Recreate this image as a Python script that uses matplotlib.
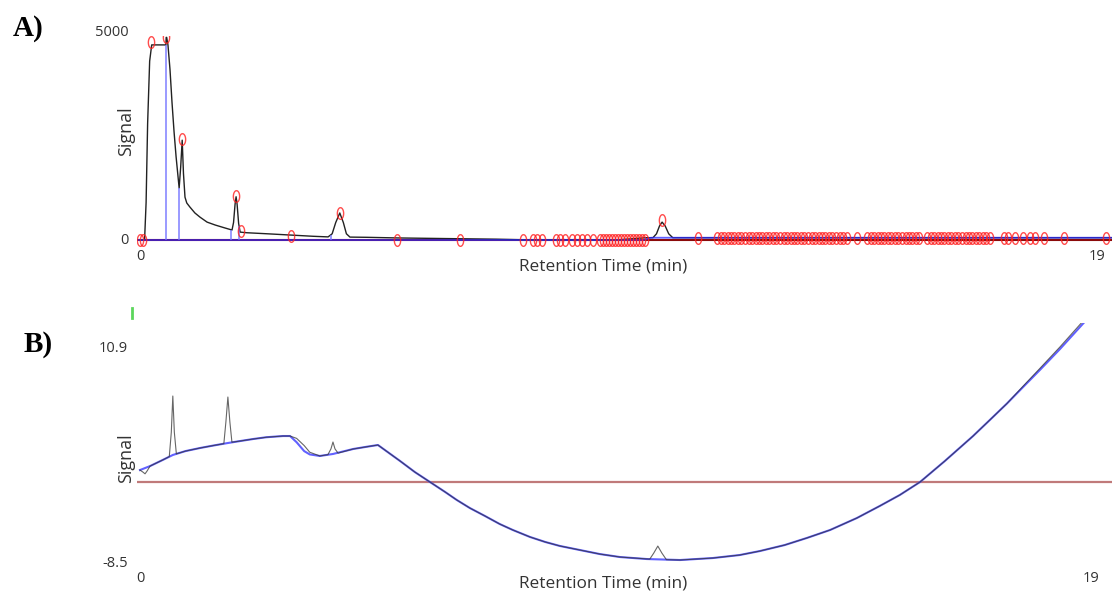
import numpy as np
import matplotlib
matplotlib.use("Agg")
import matplotlib.pyplot as plt
from matplotlib.path import Path
from matplotlib import transforms

# ---------------- Panel A: raw chromatogram with detected peaks ----------------
sig_a_t = [0.00, 0.09, 0.12, 0.15, 0.19, 0.23, 0.51, 0.515, 0.525, 0.55, 0.59,
           0.63, 0.67, 0.71, 0.75, 0.77, 0.80, 0.83, 0.855, 0.885, 0.92, 0.98,
           1.08, 1.18, 1.32, 1.48, 1.67, 1.81, 1.84, 1.87, 1.89, 1.91, 1.94,
           1.97, 2.10, 2.50, 2.95, 3.40, 3.70, 3.78, 3.85, 3.93, 4.00, 4.06,
           4.13, 4.46, 5.06, 6.00, 7.00, 7.60, 9.40, 9.95, 10.09, 10.16, 10.22,
           10.27, 10.33, 10.40, 10.48, 19.12]
sig_a_v = [0, 0, 900, 2800, 4300, 4690, 4690, 4870, 4870, 4690, 4100,
           3300, 2600, 2000, 1500, 1250, 1750, 2400, 1600, 1030, 890, 795,
           650, 550, 430, 360, 290, 240, 420, 860, 1040, 860, 400,
           190, 175, 150, 120, 90, 75, 150, 420, 650, 420, 150,
           70, 65, 50, 35, 20, 5, 5, 55, 55, 150, 340,
           430, 340, 150, 55, 55]

# fitted baseline (blue) under the trace
base_a_t = [-0.06, 9.90, 10.05, 19.12]
base_a_v = [0, 0, 55, 55]
zero_level_a = 0

# integration boundaries (vertical blue lines)
bound_a_t = [0.51, 0.77, 1.79, 1.95, 3.76]

# detected peak apexes
apex_a_t = [0.00, 0.06, 0.22, 0.52, 0.83, 1.89, 1.99, 2.97, 3.93, 10.27]
apex_a_v = [0, 0, 4760, 4880, 2430, 1060, 216, 96, 650, 480]

# detected points sitting on the baseline
flat_a_t = [5.06, 6.29, 7.53, 7.73, 7.81, 7.91, 8.18, 8.26, 8.36, 8.50,
            8.60, 8.69, 8.79, 8.91, 9.05, 9.11, 9.17, 9.22, 9.28, 9.34,
            9.40, 9.46, 9.52, 9.58, 9.64, 9.70, 9.76, 9.82, 9.87, 9.93,
            10.98, 11.35, 11.42, 11.49, 11.56, 11.62, 11.69, 11.76, 11.83,
            11.90, 11.97, 12.04, 12.11, 12.18, 12.24, 12.31, 12.38, 12.45,
            12.52, 12.59, 12.66, 12.73, 12.80, 12.86, 12.93, 13.00, 13.07,
            13.14, 13.21, 13.28, 13.35, 13.41, 13.48, 13.55, 13.62, 13.69,
            13.76, 13.83, 13.91, 14.10, 14.30, 14.37, 14.44, 14.51, 14.58,
            14.64, 14.71, 14.78, 14.85, 14.92, 14.99, 15.06, 15.13, 15.19,
            15.26, 15.33, 15.48, 15.55, 15.62, 15.69, 15.76, 15.82, 15.89,
            15.96, 16.03, 16.10, 16.17, 16.24, 16.31, 16.37, 16.44, 16.51,
            16.58, 16.65, 16.72, 16.99, 17.07, 17.21, 17.37, 17.51, 17.60,
            17.78, 18.17, 19.00]

a_yticks = [0, 5000]
a_xticks = [0, 19]

# ---------------- Panel B: drifting trace and its fitted baseline ----------------
base_b_t = [0.00, 0.20, 0.45, 0.65, 0.90, 1.19, 1.45, 1.74, 2.00, 2.24, 2.50,
            2.83, 2.97, 3.10, 3.25, 3.36, 3.56, 3.82, 4.22, 4.50, 4.71, 5.15,
            5.44, 5.74, 6.04, 6.27, 6.53, 6.83, 7.12, 7.38, 7.72, 8.02, 8.31,
            8.71, 9.10, 9.50, 10.03, 10.69, 11.34, 11.87, 12.27, 12.76, 13.20,
            13.66, 14.19, 14.64, 15.04, 15.44, 15.93, 16.49, 16.82, 17.16,
            17.51, 17.81, 18.21, 18.66, 19.00]
base_b_v = [-0.11, 0.25, 0.80, 1.25, 1.60, 1.88, 2.10, 2.33, 2.52, 2.69, 2.85,
            2.96, 2.96, 2.40, 1.60, 1.30, 1.16, 1.34, 1.79, 2.00, 2.15, 0.70,
            -0.29, -1.19, -2.09, -2.81, -3.54, -4.26, -4.98, -5.52, -6.15, -6.60, -6.96,
            -7.33, -7.69, -7.96, -8.14, -8.23, -8.05, -7.78, -7.42, -6.88, -6.24,
            -5.52, -4.44, -3.36, -2.36, -1.19, 0.70, 2.96, 4.40, 5.89,
            7.52, 8.91, 10.81, 13.07, 14.78]

sig_b_t = [0.00, 0.06, 0.10, 0.14, 0.20, 0.45, 0.58, 0.62, 0.65, 0.68, 0.72,
           0.90, 1.19, 1.45, 1.66, 1.70, 1.74, 1.78, 1.82, 2.00, 2.24, 2.50,
           2.83, 2.97, 3.10, 3.25, 3.36, 3.56, 3.72, 3.78, 3.82, 3.86, 3.92,
           4.22, 4.50, 4.71, 5.15, 5.44, 5.74, 6.04, 6.27, 6.53, 6.83, 7.12,
           7.38, 7.72, 8.02, 8.31, 8.71, 9.10, 9.50, 10.09, 10.17, 10.25,
           10.33, 10.42, 10.69, 11.34, 11.87, 12.27, 12.76, 13.20, 13.66,
           14.19, 14.64, 15.04, 15.44, 15.93, 16.49, 16.82, 17.16, 17.51,
           17.81, 18.21, 18.66, 19.00]
sig_b_v = [-0.11, -0.30, -0.45, -0.20, 0.25, 0.80, 1.10, 3.30, 6.57, 3.30, 1.35,
           1.60, 1.88, 2.10, 2.27, 4.20, 6.48, 4.20, 2.40, 2.52, 2.69, 2.85,
           2.96, 2.96, 2.75, 2.10, 1.50, 1.16, 1.28, 1.80, 2.42, 1.80, 1.42,
           1.79, 2.00, 2.15, 0.70, -0.29, -1.19, -2.09, -2.81, -3.54, -4.26, -4.98,
           -5.52, -6.15, -6.60, -6.96, -7.33, -7.69, -7.96, -8.15, -7.60, -6.97,
           -7.60, -8.20, -8.23, -8.05, -7.78, -7.42, -6.88, -6.24, -5.52,
           -4.44, -3.36, -2.36, -1.19, 0.70, 2.96, 4.40, 5.89, 7.60,
           9.05, 11.00, 13.30, 15.00]

threshold_b = -1.2
b_yticks = [10.9, -8.5]
b_xticks = [0, 19]

# ---------------- figure ----------------
W, H = 1112, 594
fig = plt.figure(figsize=(W / 100, H / 100), dpi=100)
fig.patch.set_facecolor("white")

FONT = "Open Sans"
TXT = "#333333"


def px_axes(left, top, right, bottom):
    return fig.add_axes([left / W, 1 - bottom / H, (right - left) / W, (bottom - top) / H])


def bare(ax):
    for s in ax.spines.values():
        s.set_visible(False)
    ax.set_xticks([])
    ax.set_yticks([])
    ax.patch.set_alpha(0)


def tick_labels(ax, yticks, xticks, x_label_px, y_right_px):
    ty = transforms.blended_transform_factory(fig.transFigure, ax.transData)
    for v in yticks:
        ax.text(y_right_px / W, v, f"{v}", transform=ty, ha="right", va="center",
                fontsize=10.5, family=FONT, color=TXT)
    tx = transforms.blended_transform_factory(ax.transData, fig.transFigure)
    ax.text(xticks[0], 1 - x_label_px / H, f"{xticks[0]}", transform=tx,
            ha="center", va="center", fontsize=10.5, family=FONT, color=TXT)
    ax.text(xticks[1], 1 - x_label_px / H, f"{xticks[1]}", transform=tx,
            ha="right", va="center", fontsize=10.5, family=FONT, color=TXT)


theta = np.linspace(0, 2 * np.pi, 48)
ellipse = Path(np.column_stack([0.27 * np.sin(theta), 0.5 * np.cos(theta)]))

# ---- A ----
axA = px_axes(137, 36, 1112, 250)
bare(axA)
axA.set_xlim(-0.059, 19.12)
axA.set_ylim(-240, 4904)

axA.axhline(zero_level_a, color="#8b0a0a", lw=1.5, zorder=1)
axA.plot(sig_a_t, sig_a_v, color="#222222", lw=1.0, zorder=2)
axA.plot(base_a_t, base_a_v, color="#2a2aff", lw=1.3, alpha=0.75, zorder=3)
bound_h = np.interp(bound_a_t, sig_a_t, sig_a_v)
axA.vlines(bound_a_t, 0, bound_h, color="#7070ff", lw=1.1, alpha=0.9, zorder=3)

flat_v = np.interp(flat_a_t, base_a_t, base_a_v)
mk = dict(marker=ellipse, markersize=8.4, markerfacecolor="none",
          markeredgecolor="#ff2020", markeredgewidth=1.0, alpha=0.8,
          linestyle="none", zorder=4)
axA.plot(flat_a_t, flat_v, **mk)
axA.plot(apex_a_t, apex_a_v, **mk)

tick_labels(axA, a_yticks, a_xticks, 257, 129)
fig.text(603 / W, 1 - 266 / H, "Retention Time (min)", ha="center", va="center",
         fontsize=12.4, family=FONT, color=TXT)
fig.text(126 / W, 1 - 131 / H, "Signal", rotation=90, ha="center", va="center",
         fontsize=13, family=FONT, color=TXT)
fig.text(28 / W, 1 - 28 / H, "A)", ha="center", va="center", fontsize=21,
         family="Liberation Serif", weight="bold", color="black")

# ---- B ----
axB = px_axes(137, 323, 1112, 570)
bare(axB)
axB.set_xlim(-0.059, 19.24)
axB.set_ylim(-9.13, 13.16)

axB.axhline(threshold_b, color="#c07a7a", lw=1.6, zorder=1)
axB.plot(base_b_t, base_b_v, color="#5050ff", lw=1.5, alpha=0.9, zorder=2)
axB.plot(sig_b_t, sig_b_v, color="#333333", lw=0.8, alpha=0.75, zorder=3)

tick_labels(axB, b_yticks, b_xticks, 578, 128)
fig.text(603 / W, 1 - 583 / H, "Retention Time (min)", ha="center", va="center",
         fontsize=12.4, family=FONT, color=TXT)
fig.text(126 / W, 1 - 458 / H, "Signal", rotation=90, ha="center", va="center",
         fontsize=13, family=FONT, color=TXT)
fig.text(38 / W, 1 - 344 / H, "B)", ha="center", va="center", fontsize=21,
         family="Liberation Serif", weight="bold", color="black")

# small green tick above panel B
fig.add_artist(plt.Line2D([132 / W, 132 / W], [1 - 318 / H, 1 - 308 / H],
                          color="#5cd65c", lw=2.0, transform=fig.transFigure))

fig.savefig("out.png", dpi=100, facecolor="white")
